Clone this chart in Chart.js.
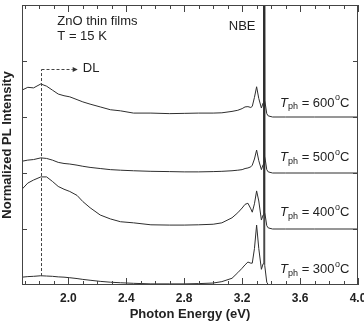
<!DOCTYPE html>
<html>
<head>
<meta charset="utf-8">
<script src="https://cdn.jsdelivr.net/npm/chart.js@4"></script>
<style>
  html, body { margin: 0; padding: 0; background: #fff; }
  #caja { width: 364px; height: 321px; }
</style>
</head>
<body>
<div id="caja"><canvas id="grafica" width="364" height="321"></canvas></div>
<script>
// Espectros PL de películas delgadas de ZnO a 15 K (desplazados 1 unidad cada uno)

const energia = [1.68, 1.72, 1.76, 1.81, 1.85, 1.89, 1.93, 1.97, 2.01, 2.06,
                 2.10, 2.15, 2.22, 2.29, 2.36, 2.45, 2.57, 2.70, 2.80, 2.90,
                 3.00, 3.06, 3.13, 3.17, 3.20, 3.22, 3.24, 3.26, 3.27, 3.285,
                 3.30, 3.315, 3.333, 3.345, 3.350, 3.356, 3.37, 3.38, 3.41, 3.50,
                 3.70, 4.00];

const pl600 = [3.48, 3.53, 3.52, 3.59, 3.55, 3.48, 3.41, 3.38, 3.36, 3.31,
               3.27, 3.23, 3.18, 3.13, 3.11, 3.07, 3.07, 3.06, 3.065, 3.07,
               3.07, 3.075, 3.10, 3.12, 3.15, 3.18, 3.185, 3.17, 3.19, 3.35,
               3.54, 3.33, 3.16, 3.25, 30, 3.3, 3.06, 3.02, 3.0, 3.0,
               3.0, 3.0];

const pl500 = [2.21, 2.23, 2.24, 2.27, 2.26, 2.23, 2.19, 2.17, 2.16, 2.14,
               2.12, 2.10, 2.08, 2.06, 2.05, 2.04, 2.03, 2.025, 2.02, 2.02,
               2.025, 2.03, 2.04, 2.05, 2.06, 2.08, 2.09, 2.11, 2.14, 2.25,
               2.41, 2.22, 2.06, 2.15, 30, 2.3, 2.06, 2.02, 2.0, 2.0,
               2.0, 2.0];

const pl400 = [1.71, 1.82, 1.875, 1.93, 1.93, 1.85, 1.76, 1.71, 1.67, 1.60,
               1.49, 1.38, 1.25, 1.18, 1.13, 1.11, 1.075, 1.07, 1.07, 1.075,
               1.085, 1.11, 1.20, 1.29, 1.375, 1.44, 1.46, 1.36, 1.30, 1.45,
               1.68, 1.50, 1.16, 1.25, 30, 1.3, 1.06, 1.02, 1.0, 1.0,
               1.0, 1.0];

const pl300 = [0.14, 0.15, 0.155, 0.165, 0.16, 0.155, 0.145, 0.14, 0.13, 0.115,
               0.10, 0.085, 0.065, 0.05, 0.04, 0.03, 0.02, 0.02, 0.02, 0.025,
               0.035, 0.06, 0.12, 0.22, 0.30, 0.36, 0.41, 0.39, 0.39, 0.65,
               1.07, 0.65, 0.28, 0.38, 30, 0.35, 0.05, 0.005, 0.005, 0.005,
               0.005, 0.005];

const temperaturas = ['600', '500', '400', '300'];
const posEtiqueta = [3.25, 2.27, 1.29, 0.27];

const etiquetasX = [2.0, 2.4, 2.8, 3.2, 3.6, 4.0];
const marcasX = [1.7, 1.8, 1.9, 2.0, 2.1, 2.2, 2.3, 2.4, 2.5, 2.6, 2.7, 2.8,
                 2.9, 3.0, 3.1, 3.2, 3.3, 3.4, 3.5, 3.6, 3.7, 3.8, 3.9, 4.0];
const marcasY = [1, 2, 3, 4];

const colorLinea = '#2e2e2e';
const colorTexto = '#222';

function serie(valores) {
    return {
        data: energia.map((e, i) => ({x: e, y: valores[i]})),
        borderColor: colorLinea,
        borderWidth: 1,
        pointRadius: 0,
        tension: 0,
        fill: false
    };
}

// Marcas interiores, marco, textos y flecha DL
const extras = {
    id: 'extras',
    afterDatasetsDraw(chart) {
        const {ctx, chartArea: a, scales: {x, y}} = chart;
        ctx.save();
        ctx.strokeStyle = '#444';
        ctx.lineWidth = 1;

        function linea(x1, y1, x2, y2) {
            ctx.beginPath();
            ctx.moveTo(x1, y1);
            ctx.lineTo(x2, y2);
            ctx.stroke();
        }

        ctx.strokeRect(a.left + 0.5, a.top + 0.5, a.right - a.left - 1, a.bottom - a.top - 1);

        marcasX.forEach(v => {
            const px = Math.round(x.getPixelForValue(v)) + 0.5;
            const largo = etiquetasX.includes(v) ? 7 : 4;
            linea(px, a.bottom, px, a.bottom - largo);
            linea(px, a.top, px, a.top + largo);
        });
        marcasY.forEach(v => {
            const py = Math.round(y.getPixelForValue(v)) + 0.5;
            linea(a.left, py, a.left + 5, py);
            linea(a.right, py, a.right - 5, py);
        });

        // flecha DL
        ctx.setLineDash([3, 2]);
        const xd = Math.round(x.getPixelForValue(1.81)) + 0.5;
        const yd = Math.round(y.getPixelForValue(3.86)) + 0.5;
        linea(xd, y.getPixelForValue(0.16), xd, yd);
        const xf = x.getPixelForValue(2.03);
        linea(xd, yd, xf, yd);
        ctx.setLineDash([]);
        const xp = x.getPixelForValue(2.065);
        ctx.fillStyle = '#333';
        ctx.beginPath();
        ctx.moveTo(xf, yd - 2.5);
        ctx.lineTo(xp, yd);
        ctx.lineTo(xf, yd + 2.5);
        ctx.closePath();
        ctx.fill();

        // textos
        ctx.fillStyle = colorTexto;
        ctx.textBaseline = 'middle';
        ctx.textAlign = 'left';
        const normal = '13px "Liberation Sans", Arial, sans-serif';
        const chica = '9px "Liberation Sans", Arial, sans-serif';
        ctx.font = normal;
        ctx.fillText('ZnO thin films', x.getPixelForValue(1.924), y.getPixelForValue(4.70));
        ctx.fillText('T = 15 K', x.getPixelForValue(1.924), y.getPixelForValue(4.43));
        ctx.fillText('DL', x.getPixelForValue(2.10), y.getPixelForValue(3.86));
        ctx.textAlign = 'center';
        ctx.fillText('NBE', x.getPixelForValue(3.20), y.getPixelForValue(4.61));
        ctx.textAlign = 'left';

        temperaturas.forEach((t, i) => {
            let px = x.getPixelForValue(3.462);
            const py = y.getPixelForValue(posEtiqueta[i]);
            ctx.font = 'italic ' + normal;
            ctx.fillText('T', px, py);
            px += ctx.measureText('T').width;
            ctx.font = chica;
            ctx.fillText('ph', px, py + 4);
            px += ctx.measureText('ph').width;
            ctx.font = normal;
            const txt = ' = ' + t;
            ctx.fillText(txt, px, py);
            px += ctx.measureText(txt).width;
            ctx.font = chica;
            ctx.fillText('o', px + 0.5, py - 5);
            px += ctx.measureText('o').width + 0.5;
            ctx.font = normal;
            ctx.fillText('C', px, py);
        });
        ctx.restore();
    }
};

new Chart(document.getElementById('grafica'), {
    type: 'scatter',
    data: {
        datasets: [serie(pl600), serie(pl500), serie(pl400), serie(pl300)]
    },
    options: {
        responsive: false,
        animation: false,
        showLine: true,
        layout: { padding: { top: 5, right: 6, left: 0, bottom: 0 } },
        scales: {
            x: {
                type: 'linear',
                min: 1.68,
                max: 4.0,
                afterBuildTicks: s => { s.ticks = etiquetasX.map(v => ({value: v})); },
                afterFit: s => { s.height = 36; s.paddingLeft = 0; s.paddingRight = 0; },
                grid: { display: false, drawTicks: false },
                border: { display: false },
                ticks: {
                    padding: 6,
                    maxRotation: 0,
                    color: colorTexto,
                    font: { family: '"Liberation Sans", Arial, sans-serif', size: 12, weight: 'bold' },
                    callback: v => Number(v).toFixed(1)
                },
                title: {
                    display: true,
                    text: 'Photon Energy (eV)',
                    color: colorTexto,
                    padding: 0,
                    font: { family: '"Liberation Sans", Arial, sans-serif', size: 13, weight: 'bold', lineHeight: 1 }
                }
            },
            y: {
                type: 'linear',
                min: 0,
                max: 5,
                afterFit: s => { s.width = 22; },
                grid: { display: false, drawTicks: false },
                border: { display: false },
                ticks: { display: false },
                title: {
                    display: true,
                    text: 'Normalized PL Intensity',
                    color: colorTexto,
                    padding: 0,
                    font: { family: '"Liberation Sans", Arial, sans-serif', size: 13, weight: 'bold', lineHeight: 1.2 }
                }
            }
        },
        plugins: {
            legend: { display: false },
            tooltip: { enabled: false }
        }
    },
    plugins: [extras]
});
</script>
</body>
</html>
